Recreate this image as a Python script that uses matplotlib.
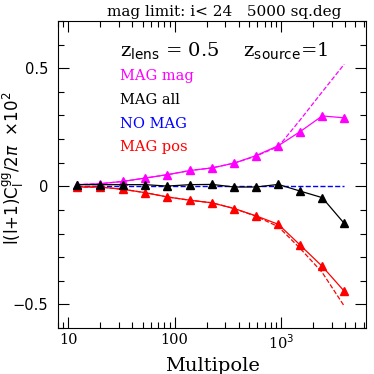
import numpy as np
import matplotlib.pyplot as plt
from matplotlib.ticker import FixedLocator, MultipleLocator, FixedFormatter, NullFormatter

# multipole bins
ell = [12, 20, 33, 53, 85, 140, 225, 362, 582, 944, 1507, 2443, 3930]

# MAG mag (magenta)
mag_mag = [0.007, 0.011, 0.021, 0.035, 0.049, 0.067, 0.078, 0.098, 0.130, 0.172, 0.231, 0.298, 0.290]
mag_mag_dash = [0.007, 0.011, 0.021, 0.035, 0.049, 0.067, 0.078, 0.098, 0.128, 0.168, 0.280, 0.400, 0.517]

# MAG all (black)
mag_all = [0.007, 0.007, 0.007, 0.007, 0.001, 0.007, 0.008, -0.003, -0.003, 0.008, -0.020, -0.048, -0.157]

# NO MAG (blue)
no_mag = [0, 0, 0, 0, 0, 0, 0, 0, 0, 0, 0, 0, 0]

# MAG pos (red)
mag_pos = [-0.003, -0.003, -0.013, -0.027, -0.045, -0.059, -0.070, -0.094, -0.125, -0.161, -0.248, -0.339, -0.444]
mag_pos_dash = [-0.003, -0.003, -0.013, -0.027, -0.045, -0.059, -0.070, -0.094, -0.127, -0.171, -0.262, -0.365, -0.507]

plt.rcParams['font.family'] = ['DejaVu Serif']

fig = plt.figure(figsize=(3.74, 3.74), dpi=100)
ax = fig.add_axes([58/374, 1 - 328/374, 308/374, 307/374])

ax.plot(ell, no_mag, color='blue', ls='--', lw=1)
ax.plot(ell, mag_mag_dash, color='magenta', ls='--', lw=0.9)
ax.plot(ell, mag_pos_dash, color='red', ls='--', lw=0.9)
ax.plot(ell, mag_mag, color='magenta', lw=0.9, marker='^', ms=5.5)
ax.plot(ell, mag_pos, color='red', lw=0.9, marker='^', ms=5.5)
ax.plot(ell, mag_all, color='black', lw=0.9, marker='^', ms=5.5)

ax.set_xscale('log')
ax.set_xlim(8, 6300)
ax.set_ylim(-0.6, 0.7)

ax.xaxis.set_major_locator(FixedLocator([10, 100, 1000]))
ax.xaxis.set_major_formatter(FixedFormatter(['10', '100', r'10$^3$']))
minors = [m * d for d in [1, 10, 100, 1000] for m in range(2, 10)]
ax.xaxis.set_minor_locator(FixedLocator(minors))
ax.xaxis.set_minor_formatter(NullFormatter())
ax.yaxis.set_major_locator(FixedLocator([-0.5, 0, 0.5]))
ax.yaxis.set_major_formatter(FixedFormatter(['\u22120.5', '0', '0.5']))
ax.yaxis.set_minor_locator(MultipleLocator(0.1))

ax.tick_params(which='both', direction='in', top=True, right=True, labelsize=10.5)
ax.tick_params(which='major', length=8, width=0.8)
ax.tick_params(which='minor', length=4, width=0.8)
ax.tick_params(axis='y', pad=7)
for t in ax.get_yticklabels():
    t.set_family('DejaVu Sans')

ax.set_xlabel('Multipole', fontsize=14)
# y label placed in figure pixels so it stays inside the canvas
fig.text(13/374, 1 - 168/374, r'l(l+1)C$_\mathrm{l}^\mathrm{gg}$/2$\pi$  $\times$10$^2$',
         fontsize=12, family='DejaVu Sans', rotation=90, ha='center', va='center')

fig.text(224/374, 1 - 12/374, 'mag limit: i< 24   5000 sq.deg', fontsize=11, ha='center', va='center')

ax.text(0.2, 0.9, r'z$_{\rm lens}$ = 0.5    z$_{\rm source}$=1', transform=ax.transAxes,
        fontsize=14, va='center')
labels = ['MAG mag', 'MAG all', 'NO MAG', 'MAG pos']
colors = ['magenta', 'black', 'blue', 'red']
for i, (lab, c) in enumerate(zip(labels, colors)):
    ax.text(0.2, 0.822 - i * 0.078, lab, color=c, transform=ax.transAxes, fontsize=10.5, va='center')

fig.savefig('out.png', dpi=100)
